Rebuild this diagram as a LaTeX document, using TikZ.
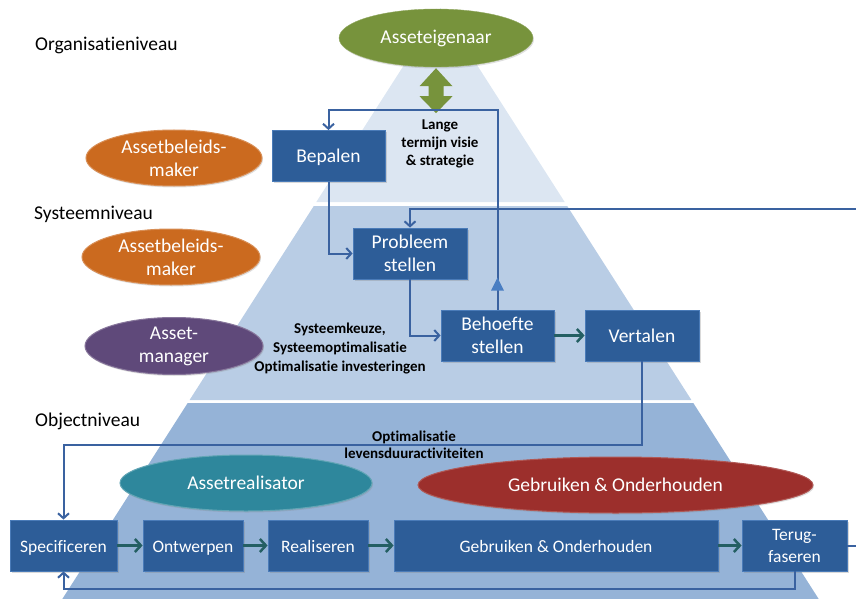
\documentclass[tikz,border=0pt]{standalone}
\usepackage{fontspec}
\setmainfont{Carlito}[RawFeature={-liga;-clig;-calt;-dlig}]
\usetikzlibrary{shapes.geometric,arrows.meta,shadows,decorations.markings}
\definecolor{bandA}{HTML}{DCE6F2}
\definecolor{bandB}{HTML}{B9CDE5}
\definecolor{bandC}{HTML}{95B3D7}
\definecolor{boxfill}{HTML}{2D5D98}
\definecolor{boxrim}{HTML}{4A7BB8}
\definecolor{conblue}{HTML}{3A62A0}
\definecolor{tealarrow}{HTML}{245F63}
\definecolor{trifill}{HTML}{4A7EC2}
\definecolor{cgreen}{HTML}{77933C}
\definecolor{corange}{HTML}{CB6A1F}
\definecolor{cpurple}{HTML}{5F497A}
\definecolor{cteal}{HTML}{2E879C}
\definecolor{cred}{HTML}{9C2F2C}
\tikzset{
  procbox/.style={rectangle, fill=boxfill, draw=boxrim, line width=0.8pt, text=white,
    align=center, inner sep=0pt, minimum height=51pt,
    font=\fontsize{19.5}{23}\selectfont,
    drop shadow={shadow xshift=1.5pt, shadow yshift=-1.5pt, opacity=0.3}},
  lowbox/.style={procbox, font=\fontsize{17.5}{22}\selectfont},
  oneline/.style={text height=14pt, text depth=1pt},
  actor/.style={ellipse, inner sep=0pt, text=white, align=center,
    font=\fontsize{19.5}{23}\selectfont,
    drop shadow={shadow xshift=1pt, shadow yshift=-1.5pt, opacity=0.25}},
  levellabel/.style={anchor=west, inner sep=0pt, font=\fontsize{19.5}{23}\selectfont},
  boldlabel/.style={align=center, inner sep=0pt, font=\bfseries\fontsize{15}{18}\selectfont},
  conn/.style={draw=conblue, line width=2pt},
  connarrow/.style={conn, -{Straight Barb[length=5pt,width=11pt,line width=2pt]}},
  flowarrow/.style={draw=tealarrow, line width=3pt, -{Straight Barb[length=6pt,width=13pt,line width=2.5pt]}},
}
\begin{document}
\begin{tikzpicture}[x=1pt,y=-1pt]
\useasboundingbox (0,0) rectangle (856,599);
% pyramid bands
\fill[bandA] (440.5,8) -- (564.7,202) -- (316.3,202) -- cycle;
\fill[bandB] (313.8,206) -- (567.2,206) -- (691.4,400) -- (189.6,400) -- cycle;
\fill[bandC] (187.7,403) -- (693.3,403) -- (818.7,599) -- (62.3,599) -- cycle;

% level labels
\node[levellabel] (lorg) at (35,45) {Organisatieniveau};
\node[levellabel] (lsys) at (34,214) {Systeemniveau};
\node[levellabel] (lobj) at (35,421) {Objectniveau};

% actors
\node[actor, fill=cgreen, draw=cgreen!80!white, minimum width=194pt, minimum height=58pt] (eig) at (436,38) {Asseteigenaar};
\node[actor, fill=corange, draw=corange!75!white, line width=1pt, minimum width=176pt, minimum height=56pt] (abm1) at (174,158) {Assetbeleids-\\maker};
\node[actor, fill=corange, draw=corange!75!white, line width=1pt, minimum width=178pt, minimum height=56pt] (abm2) at (171,257) {Assetbeleids-\\maker};
\node[actor, fill=cpurple, draw=cpurple!75!white, line width=1pt, minimum width=178pt, minimum height=57pt] (am) at (174,346) {Asset-\\manager};
\node[actor, fill=cteal, draw=cteal!75!white, line width=1pt, minimum width=252pt, minimum height=56pt] (ar) at (246,483) {Assetrealisator};
\node[actor, fill=cred, draw=cred!80!white, line width=1pt, minimum width=395pt, minimum height=56pt] (go) at (615.5,485) {Gebruiken \& Onderhouden};

% process boxes
\node[procbox, oneline, minimum width=113pt] (bep) at (328.5,156) {Bepalen};
\node[procbox, minimum width=114pt] (prob) at (410,253.5) {Probleem\\stellen};
\node[procbox, minimum width=113pt] (beh) at (497.5,335.5) {Behoefte\\stellen};
\node[procbox, oneline, minimum width=114pt] (vert) at (642,335.5) {Vertalen};
\node[lowbox, oneline, minimum width=107pt] (spec) at (63.5,545.5) {Specificeren};
\node[lowbox, oneline, minimum width=100pt] (ontw) at (193,545.5) {Ontwerpen};
\node[lowbox, oneline, minimum width=100pt] (real) at (318,545.5) {Realiseren};
\node[lowbox, oneline, minimum width=324pt] (gebr) at (556,545.5) {Gebruiken \& Onderhouden};
\node[lowbox, minimum width=105pt] (terug) at (794.5,545.5) {Terug-\\faseren};

% helper coordinates
\coordinate (ytop) at (0,110);
\coordinate (inR) at (856,209);
\coordinate (yobj) at (0,445);
\coordinate (ybot) at (0,589);
\coordinate (outR) at (856,545.5);

% green double arrow
\fill[cgreen] ([yshift=-1pt]eig.south) -- ++(16.5,18) -- ++(-9,0) -- ++(0,10) -- ++(9,0)
  -- ++(-16.5,17) -- ++(-16.5,-17) -- ++(9,0) -- ++(0,-10) -- ++(-9,0) -- cycle;

% connectors
\draw[connarrow, postaction={decorate}, decoration={markings,
   mark=at position 19pt with {\fill[trifill] (13,0) -- (0,6.5) -- (0,-6.5) -- cycle;}}]
   (beh.north) -- (beh.north |- ytop) -| (bep.north);
\draw[connarrow] (bep.south) |- (prob.west);
\draw[connarrow] (inR) -| (prob.north);
\draw[connarrow] (prob.south) |- (beh.west);
\draw[connarrow] (vert.south) -- (vert.south |- yobj) -| (spec.north);
\draw[connarrow] (terug.south) -- (terug.south |- ybot) -| (spec.south);
\draw[conn] (terug.east) -- (outR);

\draw[flowarrow] (beh) -- (vert);
\draw[flowarrow] (spec) -- (ontw);
\draw[flowarrow] (ontw) -- (real);
\draw[flowarrow] (real) -- (gebr);
\draw[flowarrow] (gebr) -- (terug);

% bold labels
\node[boldlabel] (llange) at (440,144) {Lange\\termijn visie\\\& strategie};
\node[boldlabel, font=\bfseries\fontsize{15}{19}\selectfont] (lsysk) at (340,349) {Systeemkeuze,\\Systeemoptimalisatie\\Optimalisatie investeringen};
\node[boldlabel, font=\bfseries\fontsize{15}{16.5}\selectfont] (lopt) at (414,445) {Optimalisatie\\levensduuractiviteiten};
\end{tikzpicture}
\end{document}
